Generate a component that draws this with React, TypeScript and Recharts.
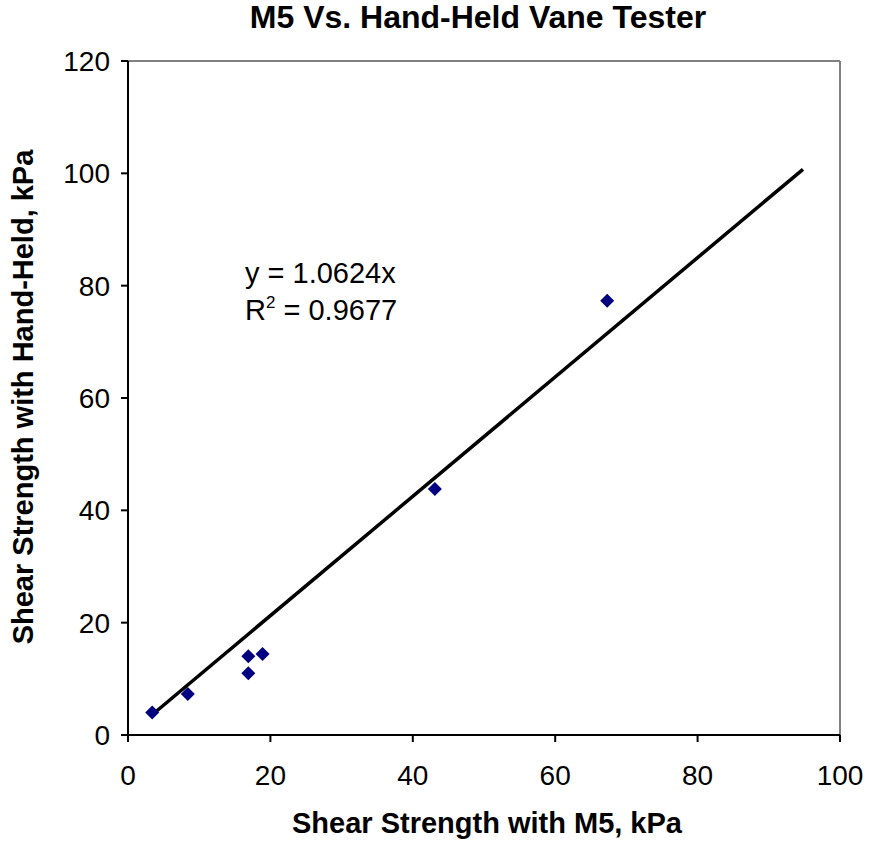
import React from 'react';
import { ComposedChart, Scatter, XAxis, YAxis, ReferenceLine } from 'recharts';

const m5Values = [3.4, 8.4, 16.9, 16.9, 18.9, 43.1, 67.3];
const handHeldValues = [4.0, 7.3, 11.0, 14.0, 14.4, 43.8, 77.3];
const xTicks = [0, 20, 40, 60, 80, 100];
const yTicks = [0, 20, 40, 60, 80, 100, 120];
const trendSlope = 1.0624;
const trendXRange = [3.35, 94.8];
const rSquared = 0.9677;

const points = m5Values.map((x, i) => ({ x, y: handHeldValues[i] }));
const trendPoints = trendXRange.map((x) => ({ x, y: x * trendSlope }));

const FONT = '"Liberation Sans", Arial, sans-serif';

const Diamond = (props: any) => {
  const { cx, cy } = props;
  if (cx == null || cy == null) return null;
  const r = 7;
  return (
    <polygon
      points={`${cx},${cy - r} ${cx + r},${cy} ${cx},${cy + r} ${cx - r},${cy}`}
      fill="#000080"
    />
  );
};

const NoShape = () => null;

export default function App() {
  return (
    <div style={{ position: 'absolute', left: 0, top: 0, width: 870, height: 841, background: '#fff' }}>
      <ComposedChart
        width={870}
        height={841}
        margin={{ top: 61, right: 30, bottom: 76, left: 68 }}
      >
        <text x={478} y={28} textAnchor="middle" fontFamily={FONT} fontWeight="bold" fontSize={32} fill="#000">
          M5 Vs. Hand-Held Vane Tester
        </text>
        <XAxis
          type="number"
          dataKey="x"
          domain={[0, 100]}
          ticks={xTicks}
          allowDataOverflow
          height={30}
          stroke="#000"
          strokeWidth={2}
          tickSize={7}
          tick={{ fontFamily: FONT, fontSize: 28, fill: '#000' }}
          tickMargin={23}
        />
        <YAxis
          type="number"
          dataKey="y"
          domain={[0, 120]}
          ticks={yTicks}
          allowDataOverflow
          width={60}
          stroke="#000"
          strokeWidth={2}
          tickSize={7}
          tick={{ fontFamily: FONT, fontSize: 28, fill: '#000' }}
          tickMargin={11}
        />
        <ReferenceLine y={120} stroke="#808080" strokeWidth={2} />
        <ReferenceLine x={100} stroke="#808080" strokeWidth={2} />
        <Scatter
          data={trendPoints}
          line={{ stroke: '#000', strokeWidth: 3.5 }}
          shape={NoShape}
          isAnimationActive={false}
        />
        <Scatter data={points} shape={Diamond} isAnimationActive={false} />
        <text x={245} y={283} fontFamily={FONT} fontSize={29} fill="#000">
          {`y = ${trendSlope}x`}
        </text>
        <text x={245} y={320} fontFamily={FONT} fontSize={29} fill="#000">
          R<tspan dy={-12} fontSize={17}>2</tspan>
          <tspan dy={12}>{` = ${rSquared}`}</tspan>
        </text>
        <text x={487} y={833} textAnchor="middle" fontFamily={FONT} fontWeight="bold" fontSize={29} fill="#000">
          Shear Strength with M5, kPa
        </text>
        <text
          x={0}
          y={0}
          transform="translate(33, 397) rotate(-90)"
          textAnchor="middle"
          fontFamily={FONT}
          fontWeight="bold"
          fontSize={29}
          fill="#000"
        >
          Shear Strength with Hand-Held, kPa
        </text>
      </ComposedChart>
    </div>
  );
}
